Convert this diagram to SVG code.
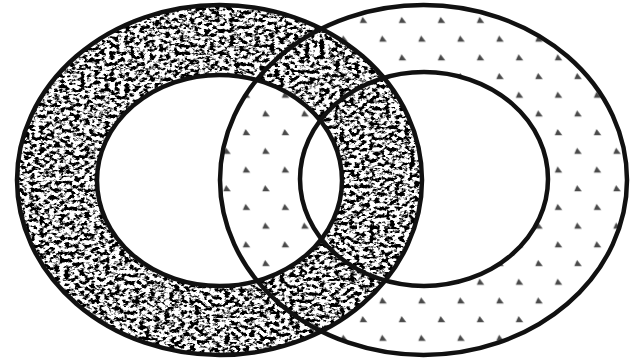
<svg xmlns="http://www.w3.org/2000/svg" width="635" height="358" viewBox="0 0 635 358">
  <style>
    .edge { fill: none; stroke: #111; stroke-width: 4.5; }
    .tri { fill: #4a4a4a; }
  </style>
  <defs>
    <pattern id="dots" patternUnits="userSpaceOnUse" x="353.75" y="10.95" width="39" height="37.4">
      <polygon class="tri" points="6,12 13.5,12 8.8,6"/>
      <polygon class="tri" points="25.5,30.7 33,30.7 28.3,24.7"/>
    </pattern>
    <filter id="grain" x="0" y="0" width="1" height="1" color-interpolation-filters="sRGB">
      <feTurbulence type="fractalNoise" baseFrequency="0.2 0.27" numOctaves="3" seed="11" result="t"/>
      <feColorMatrix in="t" type="matrix" values="0 0 0 0 0  0 0 0 0 0  0 0 0 0 0  -6 0 0 0 3.35" result="a"/>
      <feGaussianBlur in="a" stdDeviation="0.4" result="ab"/>
      <feComposite in="ab" in2="SourceGraphic" operator="in" result="ink"/>
      <feFlood flood-color="#ffffff" result="w"/>
      <feComposite in="w" in2="SourceGraphic" operator="in" result="bg"/>
      <feMerge>
        <feMergeNode in="bg"/>
        <feMergeNode in="ink"/>
      </feMerge>
    </filter>
  </defs>

  <g id="right-ring">
    <path fill="#fff" fill-rule="evenodd" d="M220,180 a203.5,175 0 1 0 407,0 a203.5,175 0 1 0 -407,0 Z M300,179 a124,107 0 1 0 248,0 a124,107 0 1 0 -248,0 Z"/>
    <path fill="url(#dots)" fill-rule="evenodd" d="M220,180 a203.5,175 0 1 0 407,0 a203.5,175 0 1 0 -407,0 Z M300,179 a124,107 0 1 0 248,0 a124,107 0 1 0 -248,0 Z"/>
  </g>

  <g id="left-ring">
    <path fill="#000" fill-rule="evenodd" filter="url(#grain)" d="M17,180 a202.5,175 0 1 0 405,0 a202.5,175 0 1 0 -405,0 Z M97,180.5 a122.5,105.5 0 1 0 245,0 a122.5,105.5 0 1 0 -245,0 Z"/>
  </g>

  <g id="outlines">
    <ellipse class="edge" cx="219.5" cy="180" rx="202.5" ry="175"/>
    <ellipse class="edge" cx="219.5" cy="180.5" rx="122.5" ry="105.5"/>
    <ellipse class="edge" cx="423.5" cy="180" rx="203.5" ry="175"/>
    <ellipse class="edge" cx="424" cy="179" rx="124" ry="107"/>
  </g>
</svg>
